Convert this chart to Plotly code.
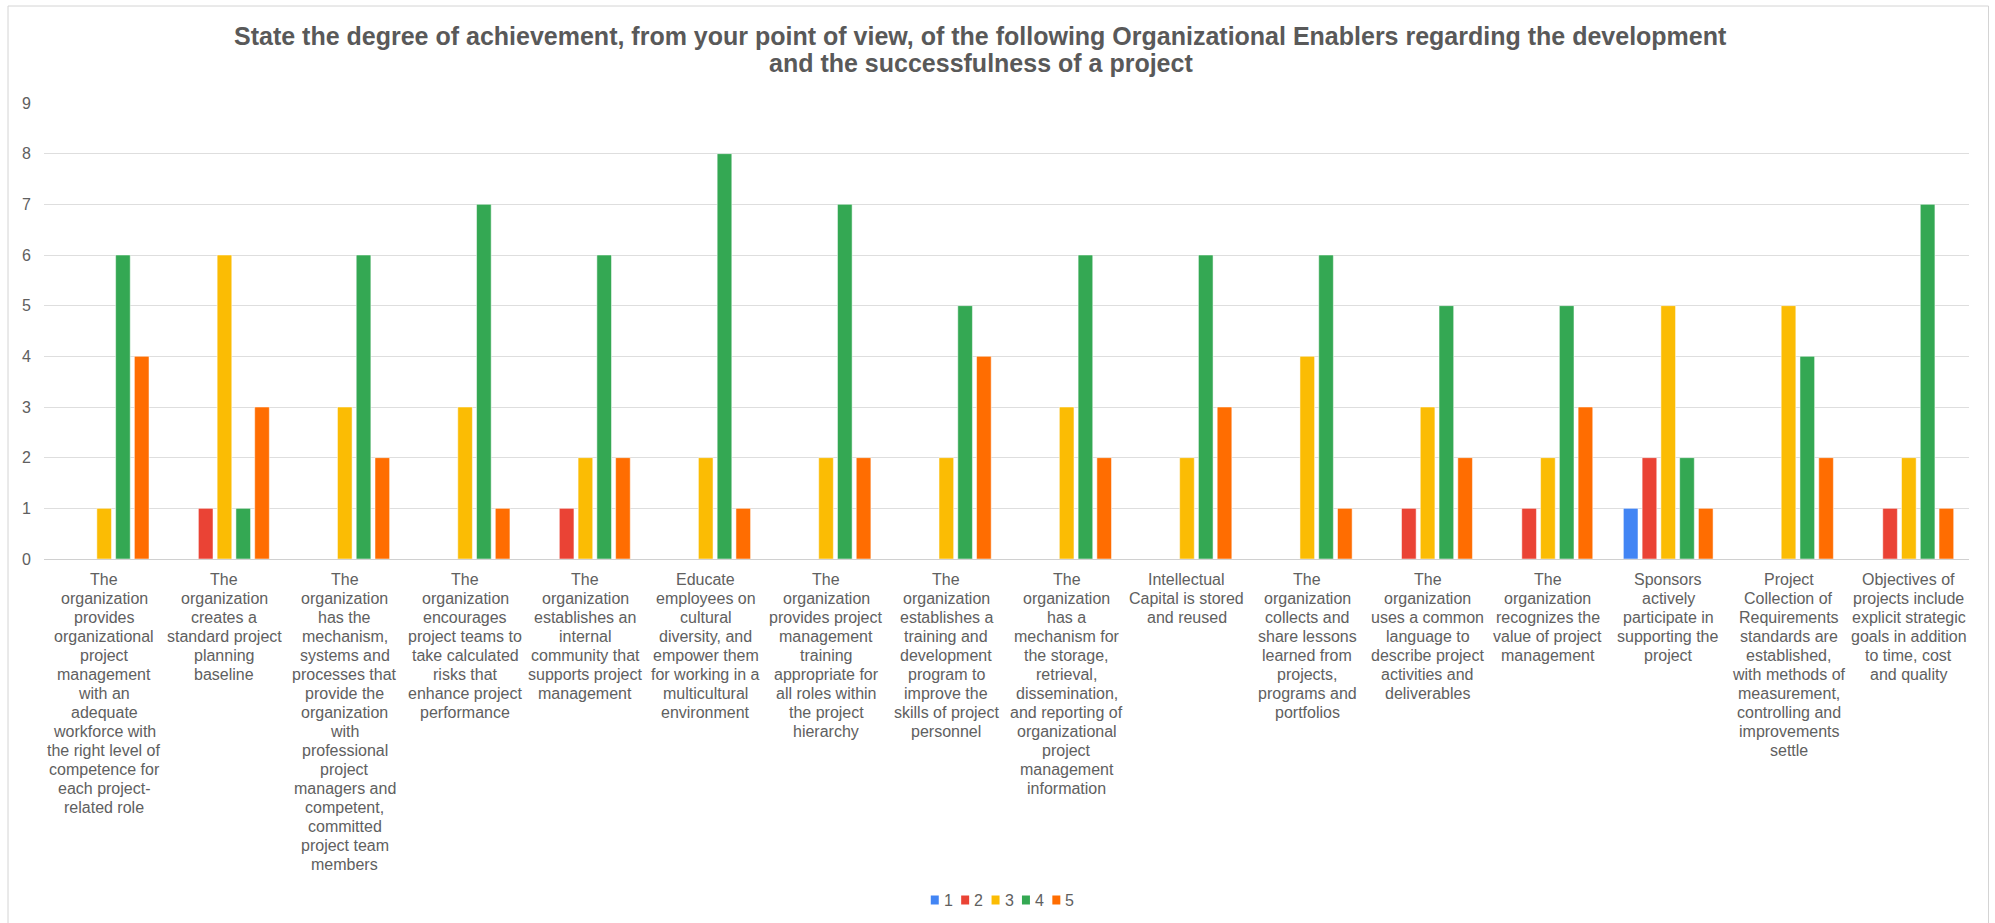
import plotly.graph_objects as go

# Organizational enablers (x-axis categories), line breaks as shown under each group
categories = [
    "The<br>organization<br>provides<br>organizational<br>project<br>management<br>with an<br>adequate<br>workforce with<br>the right level of<br>competence for<br>each project-<br>related role",
    "The<br>organization<br>creates a<br>standard project<br>planning<br>baseline",
    "The<br>organization<br>has the<br>mechanism,<br>systems and<br>processes that<br>provide the<br>organization<br>with<br>professional<br>project<br>managers and<br>competent,<br>committed<br>project team<br>members",
    "The<br>organization<br>encourages<br>project teams to<br>take calculated<br>risks that<br>enhance project<br>performance",
    "The<br>organization<br>establishes an<br>internal<br>community that<br>supports project<br>management",
    "Educate<br>employees on<br>cultural<br>diversity, and<br>empower them<br>for working in a<br>multicultural<br>environment",
    "The<br>organization<br>provides project<br>management<br>training<br>appropriate for<br>all roles within<br>the project<br>hierarchy",
    "The<br>organization<br>establishes a<br>training and<br>development<br>program to<br>improve the<br>skills of project<br>personnel",
    "The<br>organization<br>has a<br>mechanism for<br>the storage,<br>retrieval,<br>dissemination,<br>and reporting of<br>organizational<br>project<br>management<br>information",
    "Intellectual<br>Capital is stored<br>and reused",
    "The<br>organization<br>collects and<br>share lessons<br>learned from<br>projects,<br>programs and<br>portfolios",
    "The<br>organization<br>uses a common<br>language to<br>describe project<br>activities and<br>deliverables",
    "The<br>organization<br>recognizes the<br>value of project<br>management",
    "Sponsors<br>actively<br>participate in<br>supporting the<br>project",
    "Project<br>Collection of<br>Requirements<br>standards are<br>established,<br>with methods of<br>measurement,<br>controlling and<br>improvements<br>settle",
    "Objectives of<br>projects include<br>explicit strategic<br>goals in addition<br>to time, cost<br>and quality",
]

# Number of responses per rating (1..5)
series_names = ["1", "2", "3", "4", "5"]
rating_1 = [0, 0, 0, 0, 0, 0, 0, 0, 0, 0, 0, 0, 0, 1, 0, 0]
rating_2 = [0, 1, 0, 0, 1, 0, 0, 0, 0, 0, 0, 1, 1, 2, 0, 1]
rating_3 = [1, 6, 3, 3, 2, 2, 2, 2, 3, 2, 4, 3, 2, 5, 5, 2]
rating_4 = [6, 1, 6, 7, 6, 8, 7, 5, 6, 6, 6, 5, 5, 2, 4, 7]
rating_5 = [4, 3, 2, 1, 2, 1, 2, 4, 2, 3, 1, 2, 3, 1, 2, 1]
y_ticks = [0, 1, 2, 3, 4, 5, 6, 7, 8, 9]

title_lines = [
    "State the degree of achievement, from your point of view, of the following Organizational Enablers regarding the development",
    "and the successfulness of a project",
]

colors = ["#4285F4", "#EA4335", "#FBBC04", "#34A853", "#FF6D01"]
series_values = [rating_1, rating_2, rating_3, rating_4, rating_5]

FONT = "Liberation Sans, Arial, sans-serif"
TEXT_COLOR = "#606060"
W, H = 1995, 923
PL, PR, PT, PB = 44, 1969.5, 103, 559  # plot area in pixels

fig = go.Figure()
for name, vals, col in zip(series_names, series_values, colors):
    fig.add_trace(go.Bar(
        x=list(range(len(categories))), y=vals, name=name,
        marker=dict(color=col, line=dict(color="rgba(255,255,255,0.5)", width=1)),
        showlegend=False,
    ))


def px_x(p):
    return (p - PL) / (PR - PL)


def px_y(p):
    return (PB - p) / (PB - PT)


shapes = []
annotations = []

# outer chart border
shapes.append(dict(type="rect", xref="paper", yref="paper",
                   x0=px_x(8), x1=px_x(1989), y0=px_y(940), y1=px_y(6),
                   line=dict(color="#d4d4d4", width=1), fillcolor="rgba(0,0,0,0)",
                   layer="below"))

# two-line bold title with tight line spacing
for i, line in enumerate(title_lines):
    annotations.append(dict(xref="paper", yref="paper", x=px_x(981), y=px_y(36 + 27 * i),
                            xanchor="center", yanchor="middle", showarrow=False,
                            text=f"<b>{line}</b>",
                            font=dict(family=FONT, size=25, color="#595959")))

# category labels, one text row per line so the rows sit 19 px apart
LABEL_TOP, LABEL_STEP = 579, 19
for ci, label in enumerate(categories):
    for li, row in enumerate(label.split("<br>")):
        annotations.append(dict(xref="x", yref="paper", x=ci, y=px_y(LABEL_TOP + LABEL_STEP * li),
                                xanchor="center", yanchor="middle", showarrow=False,
                                text=row, font=dict(family=FONT, size=16, color=TEXT_COLOR)))

# compact legend: colour square followed by the series name
leg_x0, leg_step, leg_y = 931, 30.4, 900
for i, (name, col) in enumerate(zip(series_names, colors)):
    sx = leg_x0 + leg_step * i
    shapes.append(dict(type="rect", xref="paper", yref="paper",
                       x0=px_x(sx), x1=px_x(sx + 8), y0=px_y(leg_y + 4.5), y1=px_y(leg_y - 4.5),
                       line=dict(width=0), fillcolor=col))
    annotations.append(dict(xref="paper", yref="paper", x=px_x(sx + 11), y=px_y(leg_y),
                            xanchor="left", yanchor="middle", showarrow=False,
                            text=name, font=dict(family=FONT, size=16, color=TEXT_COLOR)))

fig.update_layout(
    width=W, height=H,
    margin=dict(l=PL, r=W - PR, t=PT, b=H - PB, pad=0),
    paper_bgcolor="white", plot_bgcolor="white",
    barmode="group", bargap=0.22, bargroupgap=0.22,
    xaxis=dict(
        tickmode="array", tickvals=list(range(len(categories))),
        showticklabels=False, showgrid=False, zeroline=False, showline=False, ticks="",
        range=[-0.5, len(categories) - 0.5],
    ),
    yaxis=dict(
        range=[0, 9], tickmode="array", tickvals=y_ticks,
        showgrid=True, gridcolor="#dedede", gridwidth=1,
        zeroline=True, zerolinecolor="#d0d0d0", zerolinewidth=1,
        showline=False, ticks="", ticklabelstandoff=12,
        tickfont=dict(family=FONT, size=16, color=TEXT_COLOR),
    ),
    shapes=shapes,
    annotations=annotations,
)

fig.write_html("out.html")
